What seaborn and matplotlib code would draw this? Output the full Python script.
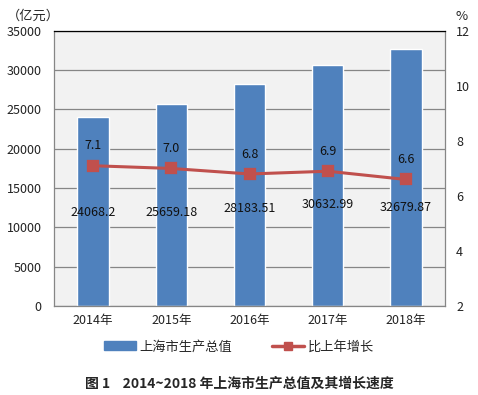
import numpy as np
import pandas as pd
import matplotlib
matplotlib.use('Agg')
import matplotlib.pyplot as plt
import seaborn as sns
from matplotlib.patches import Patch
from matplotlib.lines import Line2D

years = ["2014年", "2015年", "2016年", "2017年", "2018年"]
gdp = [24068.2, 25659.18, 28183.51, 30632.99, 32679.87]
gdp_labels = ["24068.2", "25659.18", "28183.51", "30632.99", "32679.87"]
growth = [7.1, 7.0, 6.8, 6.9, 6.6]
growth_labels = ["7.1", "7.0", "6.8", "6.9", "6.6"]
# where the value labels of the bars sit (left axis units)
gdp_label_y = [11900, 11900, 12400, 12900, 12500]

sns.set_style("white")
plt.rcParams['font.family'] = ['Noto Sans CJK SC', 'DejaVu Sans']

BLUE = "#4F81BD"
RED = "#C0504D"
GRID = "#868686"

df = pd.DataFrame({"year": years, "gdp": gdp, "growth": growth})

fig = plt.figure(figsize=(4.78, 3.95), dpi=100)
ax = fig.add_axes([0.113, 0.225, 0.818, 0.697])
ax.set_facecolor("#F2F2F2")

sns.barplot(data=df, x="year", y="gdp", color=BLUE, width=0.4,
            saturation=1, ax=ax, zorder=2)
ax.set_ylim(0, 35000)
ax.set_yticks(np.arange(0, 35001, 5000))
ax.yaxis.grid(True, color=GRID, lw=0.9, zorder=0)
ax.set_axisbelow(True)
ax.set_xlabel(""); ax.set_ylabel("")
ax.tick_params(axis='both', length=0, labelsize=9, colors="#222222")
ax.tick_params(axis='x', pad=6)
ax.tick_params(axis='y', pad=9)
for s in ["left", "bottom", "right"]:
    ax.spines[s].set_color(GRID)
ax.spines["top"].set_color("black")
for s in ax.spines.values():
    s.set_linewidth(0.9)

for i, (lab, yy) in enumerate(zip(gdp_labels, gdp_label_y)):
    ax.text(i, yy, lab, ha='center', va='center', fontsize=9,
            color="#111111", zorder=5)

ax2 = ax.twinx()
sns.pointplot(data=df, x="year", y="growth", color=RED, marker='s',
              markersize=6.5, linewidth=2.2, ax=ax2)
ax2.set_ylim(2, 12)
ax2.set_yticks(np.arange(2, 13, 2))
ax2.set_ylabel("")
ax2.tick_params(axis='y', length=0, labelsize=9, colors="#222222", pad=8)
for s in ax2.spines.values():
    s.set_visible(False)
for i, (lab, v) in enumerate(zip(growth_labels, growth)):
    ax2.text(i, v + 0.72, lab, ha='center', va='center', fontsize=9,
             color="#111111")

fig.text(0.015, 0.958, "（亿元）", fontsize=9.5, ha='left', va='center')
fig.text(0.965, 0.958, "%", fontsize=9.5, ha='center', va='center')

handles = [Patch(facecolor=BLUE, edgecolor=BLUE),
           Line2D([0], [0], color=RED, lw=2.5, marker='s', markersize=5.5)]
fig.legend(handles, ["上海市生产总值", "比上年增长"], loc='center',
           bbox_to_anchor=(0.5, 0.122), ncol=2, frameon=False, fontsize=9.5,
           handlelength=2.4, columnspacing=3.0, handletextpad=0.3)

fig.text(0.5, 0.03, "图 1    2014~2018 年上海市生产总值及其增长速度",
         fontsize=10, fontweight='bold', ha='center', va='center')

fig.savefig("out.png", dpi=100)
